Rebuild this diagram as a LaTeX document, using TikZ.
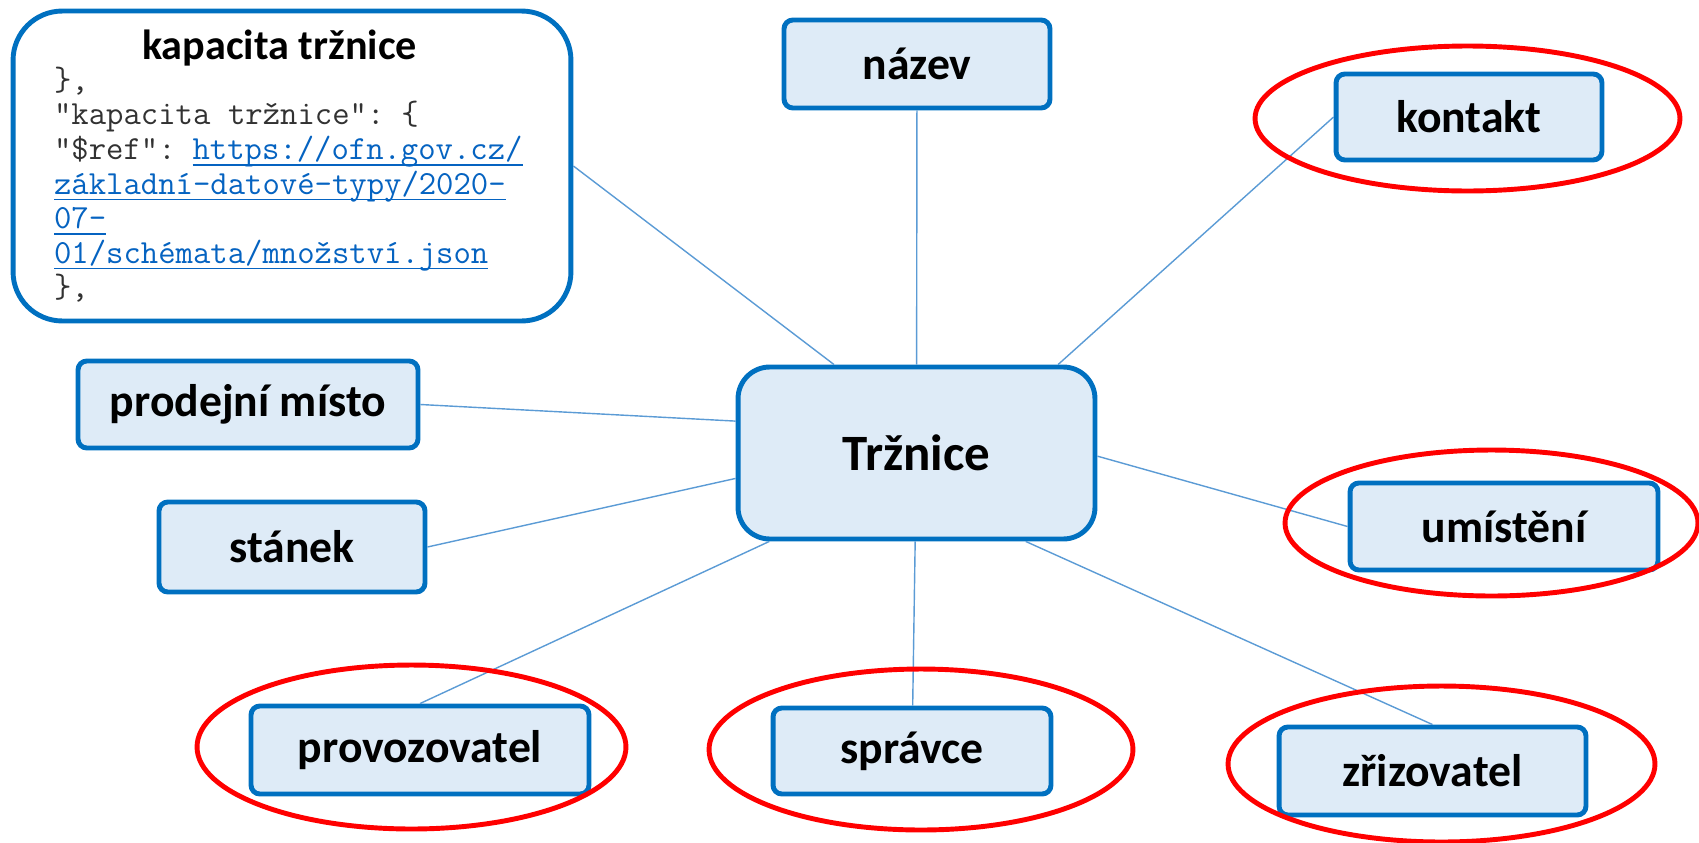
\documentclass[tikz,border=0pt]{standalone}
\usepackage{fontspec}
\setmainfont{Carlito}
\newcommand{\codefont}{\ttfamily}
\usetikzlibrary{shapes.geometric}
\definecolor{boxblue}{RGB}{0,112,192}
\definecolor{boxfill}{RGB}{222,235,247}
\definecolor{linkline}{RGB}{91,155,213}
\definecolor{ringred}{RGB}{255,0,0}
\definecolor{codegray}{RGB}{50,50,50}
\definecolor{urlblue}{RGB}{5,99,193}
\newcommand{\urlpart}[1]{\textcolor{urlblue}{\setbox0\hbox{#1}\rlap{\rule[-3.5pt]{\wd0}{0.8pt}}\box0}}

\begin{document}
\begin{tikzpicture}[
  x=0.02cm, y=-0.02cm,
  topic/.style ={rounded corners=5pt, draw=boxblue, line width=2.8pt, fill=boxfill,
                 inner sep=0pt, align=center, font=\fontsize{26}{30}\selectfont\bfseries},
  hub/.style   ={topic, rounded corners=18pt, minimum width=7.14cm, minimum height=3.44cm,
                 font=\fontsize{29}{34}\selectfont\bfseries},
  schema/.style={rounded corners=28pt, draw=boxblue, line width=2.8pt, fill=white,
                 text width=9.52cm, inner xsep=0.82cm, minimum height=6.2cm, align=left,
                 text=codegray, font=\codefont\fontsize{19.2}{19.7}\selectfont},
  ring/.style  ={ellipse, draw=ringred, line width=2.8pt, inner sep=0pt},
  link/.style  ={draw=linkline, line width=0.8pt},
]
\useasboundingbox (0,0) rectangle (1699,842);

% spokes
\node[hub] (trh) at (916.5,453) {Tržnice};

\node[schema] (kap) at (292,166) {\spaceskip=0.525em\relax
\makebox[\linewidth][c]{\hspace*{-0.5cm}\fontsize{24}{28}\selectfont\normalfont\bfseries\spaceskip=0pt\relax\color{black}kapacita tržnice}\\[-2pt]
\},\\
"kapacita tržnice": \{\\
"\$ref": \urlpart{https://ofn.gov.cz/}\\
\urlpart{základní-datové-typy/2020-}\\
\urlpart{07-}\\
\urlpart{01/schémata/množství.json}\\
\},};

\node[topic, minimum width=5.32cm, minimum height=1.76cm] (nazev) at (917,64) {název};
\node[topic, minimum width=5.32cm, minimum height=1.72cm] (kontakt) at (1469,117) {kontakt};
\node[topic, minimum width=6.8cm, minimum height=1.74cm] (prodej) at (248,404.5) {prodejní místo};
\node[topic, minimum width=5.32cm, minimum height=1.8cm] (stanek) at (292,547) {stánek};
\node[topic, minimum width=6.16cm, minimum height=1.74cm] (umisteni) at (1504,526.5) {umístění};
\node[topic, minimum width=6.76cm, minimum height=1.76cm] (provoz) at (420,750) {provozovatel};
\node[topic, minimum width=5.56cm, minimum height=1.72cm] (spravce) at (912,751) {správce};
\node[topic, minimum width=6.14cm, minimum height=1.76cm] (zriz) at (1432.5,771) {zřizovatel};

\draw[link] (kap.east) -- (trh.133.5);
\draw[link] (nazev) -- (trh);
\draw[link] (kontakt.west) -- (trh.32.9);
\draw[link] (prodej.east) -- (trh.170.8);
\draw[link] (stanek.east) -- (trh.188);
\draw[link] (umisteni.west) -- (trh.-1);
\draw[link] (provoz.north) -- (trh.211.6);
\draw[link] (spravce) -- (trh);
\draw[link] (zriz.north) -- (trh.-39);

% red rings
\node[ring, minimum width=8.5cm, minimum height=2.9cm] (kontaktring) at (1467.5,118.5) {};
\node[ring, minimum width=8.26cm, minimum height=2.92cm] (umisteniring) at (1491.5,523) {};
\node[ring, minimum width=8.58cm, minimum height=3.28cm] (provozring) at (411.5,747) {};
\node[ring, minimum width=8.48cm, minimum height=3.22cm] (spravcering) at (921,749.5) {};
\node[ring, minimum width=8.54cm, minimum height=3.12cm] (zrizring) at (1441.5,764) {};
\end{tikzpicture}
\end{document}
